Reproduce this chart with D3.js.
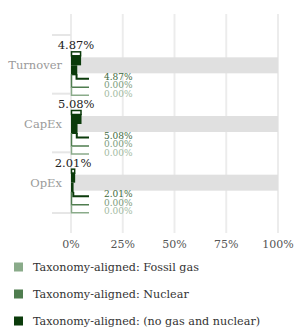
<!DOCTYPE html>
<html><head><meta charset="utf-8">
<script src="https://cdn.jsdelivr.net/npm/d3@7"></script>
<style>body{margin:0;background:#fff}svg{display:block}text{font-family:"DejaVu Serif",serif}</style>
</head><body><svg id="c" width="295" height="329"></svg>
<script>
const categories = ["Turnover", "CapEx", "OpEx"];
const noGasNuclear = [4.87, 5.08, 2.01];
const nuclear = [0.00, 0.00, 0.00];
const fossilGas = [0.00, 0.00, 0.00];
const ticks = [0, 25, 50, 75, 100];
const legendLabels = ["Taxonomy-aligned: Fossil gas", "Taxonomy-aligned: Nuclear", "Taxonomy-aligned: (no gas and nuclear)"];
const colors = ["#8aab8a", "#4f7d4f", "#0b3b0b"];

const svg = d3.select("#c");
const x = d3.scaleLinear().domain([0, 100]).range([71, 278]);
const y = d3.scaleBand().domain(categories).range([36, 212]).padding(0);

// vertical grid
svg.append("g").selectAll("line").data(ticks).join("line")
  .attr("x1", d => x(d)).attr("x2", d => x(d)).attr("y1", 14).attr("y2", 233)
  .attr("stroke", "#ececec").attr("stroke-width", 2);
// short band boundary lines
svg.append("g").selectAll("line").data(categories.concat(["end"])).join("line")
  .attr("x1", 52).attr("x2", x(0))
  .attr("y1", (d, i) => i < 3 ? y(d) - 1 : y.range()[1] + 1)
  .attr("y2", (d, i) => i < 3 ? y(d) - 1 : y.range()[1] + 1)
  .attr("stroke", "#e6e6e6").attr("stroke-width", 2);

const g = svg.append("g").selectAll("g").data(categories).join("g")
  .attr("transform", d => `translate(0,${y(d) + y.bandwidth() / 2})`);

// background 100% bar
g.append("rect").attr("x", x(0)).attr("width", x(100) - x(0)).attr("y", -8).attr("height", 16).attr("fill", "#e0e0e0");

// category labels
g.append("text").attr("x", 62).attr("y", 0).attr("dy", "0.35em").attr("text-anchor", "end")
  .attr("font-size", 11.5).attr("fill", "#9a9a9a").text(d => d);

g.each(function (d, i) {
  const s = d3.select(this);
  const v = noGasNuclear[i];
  const w = x(v) - x(0);
  const x0 = x(0);
  s.append("rect").attr("x", x0 + 0.5).attr("y", -13.5).attr("width", Math.max(w - 1, 1)).attr("height", 4)
    .attr("fill", "#fff").attr("stroke", colors[2]).attr("stroke-width", 1.5);
  s.append("rect").attr("x", x0).attr("y", -10).attr("width", w).attr("height", 10).attr("fill", colors[2]);
  s.append("rect").attr("x", x0).attr("y", 0).attr("width", w * 0.62).attr("height", 10).attr("fill", colors[2]);
  const xe = x0 + 18;
  s.append("path").attr("d", `M${x0 + w * 0.55},9 V13.5 H${xe}`).attr("fill", "none").attr("stroke", colors[2]).attr("stroke-width", 2);
  s.append("path").attr("d", `M${x0 + 0.5},9 V22 H${xe}`).attr("fill", "none").attr("stroke", colors[1]).attr("stroke-width", 1.5);
  s.append("path").attr("d", `M${x0 + 0.5},22 V30 H${xe}`).attr("fill", "none").attr("stroke", colors[0]).attr("stroke-width", 1.5);
  s.append("text").attr("x", x0 + w / 2).attr("y", -16).attr("text-anchor", "middle")
    .attr("font-size", 11.5).attr("fill", "#222").text(v.toFixed(2) + "%");
  const vals = [noGasNuclear[i], nuclear[i], fossilGas[i]];
  const lc = ["#3d6a3d", "#7c9c7c", "#a2baa2"];
  vals.forEach((val, k) => {
    s.append("text").attr("x", x0 + 33).attr("y", 11.5 + k * 8.5).attr("dy", "0.35em")
      .attr("font-size", 9).attr("fill", lc[k]).text(val.toFixed(2) + "%");
  });
});

// x tick labels
svg.append("g").selectAll("text").data(ticks).join("text")
  .attr("x", d => x(d)).attr("y", 244).attr("dy", "0.35em").attr("text-anchor", "middle")
  .attr("font-size", 11).attr("fill", "#555").text(d => d + "%");

// legend
const lg = svg.append("g").selectAll("g").data(legendLabels).join("g")
  .attr("transform", (d, i) => `translate(0,${267 + i * 27})`);
lg.append("rect").attr("x", 14).attr("y", -4.5).attr("width", 9).attr("height", 9).attr("fill", (d, i) => colors[i]);
lg.append("text").attr("x", 33).attr("y", 0).attr("dy", "0.35em").attr("font-size", 11.2).attr("fill", "#333").text(d => d);
</script></body></html>
